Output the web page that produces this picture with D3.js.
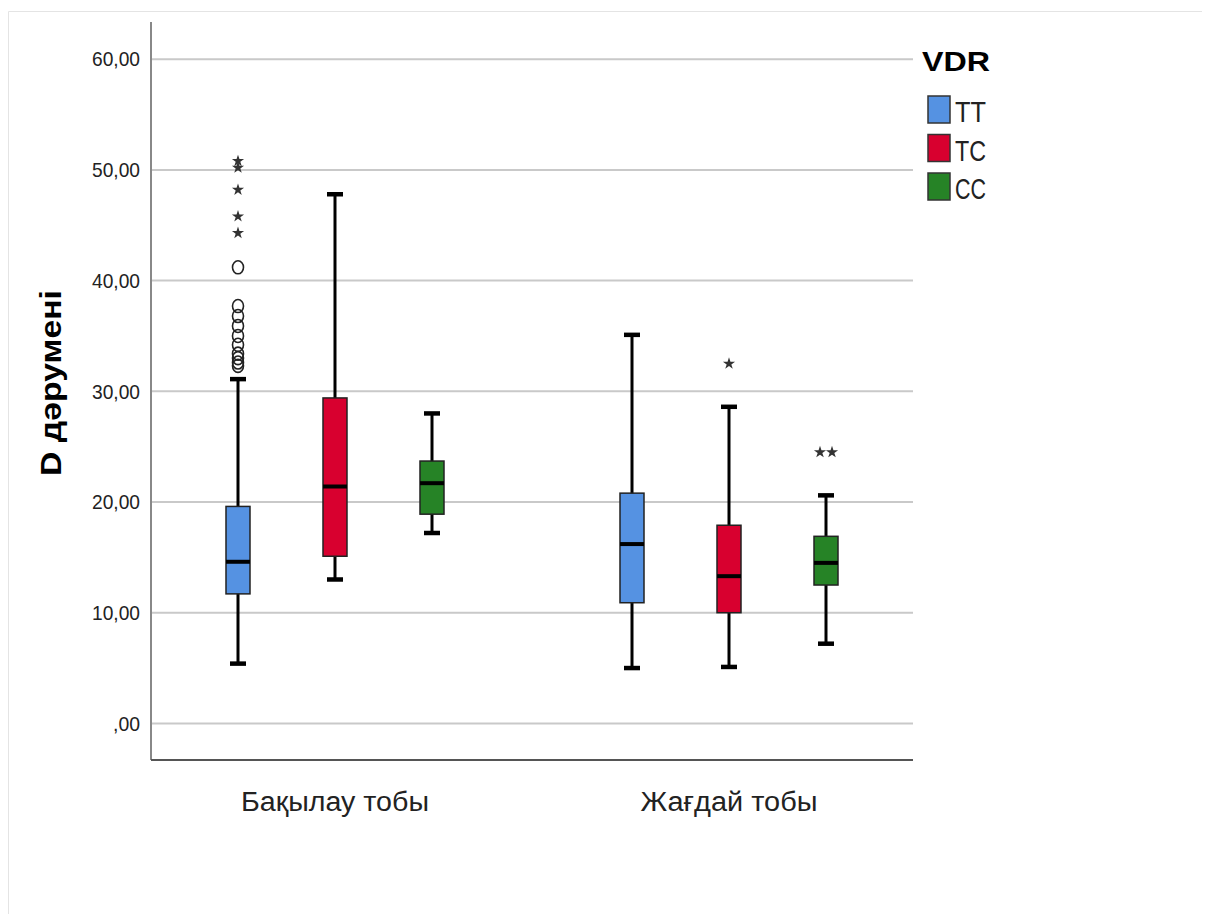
<!DOCTYPE html>
<html>
<meta charset="utf-8">
<style>
  body { margin: 0; background: #fff; }
  svg { display: block; }
  text { font-family: 'Liberation Sans', Arial, sans-serif; fill: #222; }
</style>
<body>
<svg width="1208" height="914"></svg>
<script src="https://d3js.org/d3.v7.min.js"></script>
<script>
  // groups on the x axis and the genotypes inside each group
  let groups = ["Бақылау тобы", "Жағдай тобы"];
  let genotypes = ["TT", "TC", "CC"];
  let colors = ["#5592e2", "#d8002f", "#268326"];

  // box stats, order: [Бақылау TT, TC, CC, Жағдай TT, TC, CC]
  let whiskerLow = [5.4, 13.0, 17.2, 5.0, 5.1, 7.2];
  let q1        = [11.7, 15.1, 18.9, 10.9, 10.0, 12.5];
  let medians   = [14.6, 21.4, 21.7, 16.2, 13.3, 14.5];
  let q3        = [19.6, 29.4, 23.7, 20.8, 17.9, 16.9];
  let whiskerHigh = [31.1, 47.8, 28.0, 35.1, 28.6, 20.6];

  // outliers (circles) and extremes (stars): [box index, value]
  let circleOutliers = [[0, 41.2], [0, 37.7], [0, 36.8], [0, 35.9], [0, 35.0], [0, 34.2], [0, 33.4], [0, 33.0], [0, 32.6], [0, 32.3]];
  let starOutliers = [[0, 50.8], [0, 50.2], [0, 48.2], [0, 45.8], [0, 44.3], [4, 32.5], [5, 24.5], [5, 24.5]];

  let yTicks = [0, 10, 20, 30, 40, 50, 60];

  let svg = d3.select("svg");
  let plotLeft = 151, plotRight = 913, plotTop = 22, plotBottom = 760;

  // faint frame around the output
  svg.append("path")
     .attr("d", "M8.5,914 V11.5 H1202")
     .style("fill", "none").style("stroke", "#e4e4e4");

  let yScale = d3.scaleLinear().domain([0, 60]).range([723.4, 59.2]);
  let xGroup = d3.scalePoint().domain(groups).range([plotLeft, plotRight]).padding(0.467);
  let xSub = d3.scalePoint().domain(genotypes).range([-97, 97]);
  let bw = 24;

  function boxCx(i) {
    return xGroup(groups[Math.floor(i / 3)]) + xSub(genotypes[i % 3]);
  }

  // gridlines
  svg.append("g").selectAll("line").data(yTicks).join("line")
     .attr("x1", plotLeft).attr("x2", plotRight)
     .attr("y1", d => yScale(d)).attr("y2", d => yScale(d))
     .style("stroke", "#c9c9c9").style("stroke-width", 2);

  // axes
  let yAxis = svg.append("g").attr("transform", "translate(" + plotLeft + ",0)")
     .call(d3.axisLeft(yScale).tickValues(yTicks).tickSize(0).tickPadding(11)
       .tickFormat(d => d === 0 ? ",00" : d3.format(".2f")(d).replace(".", ",")));
  yAxis.select(".domain").remove();
  yAxis.selectAll("text").style("font-size", "21px").style("fill", "#222")
       .style("font-family", "'Liberation Sans', Arial, sans-serif")
       .attr("lengthAdjust", "spacingAndGlyphs")
       .attr("textLength", d => d === 0 ? 27 : 48);

  svg.append("line").attr("x1", plotLeft).attr("x2", plotLeft).attr("y1", plotTop).attr("y2", plotBottom)
     .style("stroke", "#888").style("stroke-width", 2);
  svg.append("line").attr("x1", plotLeft).attr("x2", plotRight).attr("y1", plotBottom).attr("y2", plotBottom)
     .style("stroke", "#555").style("stroke-width", 2);

  // category labels
  svg.append("g").selectAll("text").data(groups).join("text")
     .attr("x", d => xGroup(d))
     .attr("y", 811)
     .attr("text-anchor", "middle")
     .style("font-size", "27px")
     .attr("lengthAdjust", "spacingAndGlyphs")
     .attr("textLength", (d, i) => i === 0 ? 188 : 177)
     .text(d => d);

  // y title
  svg.append("text")
     .attr("transform", "translate(61,383) rotate(-90)")
     .attr("text-anchor", "middle")
     .style("font-size", "29px").style("font-weight", "bold").style("fill", "#000")
     .attr("lengthAdjust", "spacingAndGlyphs")
     .attr("textLength", 186)
     .text("D дәрумені");

  // whiskers
  let idx = d3.range(6);
  let boxes = svg.append("g");
  boxes.selectAll(".whisker").data(idx).join("line")
     .attr("x1", i => boxCx(i)).attr("x2", i => boxCx(i))
     .attr("y1", i => yScale(whiskerLow[i])).attr("y2", i => yScale(whiskerHigh[i]))
     .style("stroke", "#000").style("stroke-width", 3);
  boxes.selectAll(".capLow").data(idx).join("line")
     .attr("x1", i => boxCx(i) - 8).attr("x2", i => boxCx(i) + 8)
     .attr("y1", i => yScale(whiskerLow[i])).attr("y2", i => yScale(whiskerLow[i]))
     .style("stroke", "#000").style("stroke-width", 4.5);
  boxes.selectAll(".capHigh").data(idx).join("line")
     .attr("x1", i => boxCx(i) - 8).attr("x2", i => boxCx(i) + 8)
     .attr("y1", i => yScale(whiskerHigh[i])).attr("y2", i => yScale(whiskerHigh[i]))
     .style("stroke", "#000").style("stroke-width", 4.5);

  boxes.selectAll("rect").data(idx).join("rect")
     .attr("x", i => boxCx(i) - bw / 2).attr("width", bw)
     .attr("y", i => yScale(q3[i])).attr("height", i => yScale(q1[i]) - yScale(q3[i]))
     .style("fill", i => colors[i % 3]).style("stroke", "#222").style("stroke-width", 1.5);
  boxes.selectAll(".median").data(idx).join("line")
     .attr("x1", i => boxCx(i) - bw / 2).attr("x2", i => boxCx(i) + bw / 2)
     .attr("y1", i => yScale(medians[i])).attr("y2", i => yScale(medians[i]))
     .style("stroke", "#000").style("stroke-width", 4);

  // outliers
  svg.append("g").selectAll("ellipse").data(circleOutliers).join("ellipse")
     .attr("cx", d => boxCx(d[0])).attr("cy", d => yScale(d[1]))
     .attr("rx", 5.5).attr("ry", 6.5)
     .style("fill", "none").style("stroke", "#222").style("stroke-width", 1.6);

  let starSym = d3.symbol().type(d3.symbolStar).size(46);
  svg.append("g").selectAll("path").data(starOutliers).join("path")
     .attr("transform", (d, i) => {
       let off = 0;
       if (d[0] === 5) off = (i === starOutliers.length - 1) ? 6 : -6;
       return "translate(" + (boxCx(d[0]) + off) + "," + yScale(d[1]) + ")";
     })
     .attr("d", starSym)
     .style("fill", "#333");

  // legend
  let legend = svg.append("g");
  legend.append("text").attr("x", 922).attr("y", 71)
     .style("font-size", "28px").style("font-weight", "bold").style("fill", "#000")
     .attr("lengthAdjust", "spacingAndGlyphs").attr("textLength", 68)
     .text("VDR");
  let items = legend.selectAll(".item").data(genotypes).join("g")
     .attr("transform", (d, i) => "translate(928," + (96 + i * 38.5) + ")");
  items.append("rect").attr("width", 22).attr("height", 27)
     .style("fill", (d, i) => colors[i]).style("stroke", "#333").style("stroke-width", 1.5);
  items.append("text").attr("x", 27).attr("y", 26)
     .style("font-size", "29px")
     .attr("lengthAdjust", "spacingAndGlyphs")
     .attr("textLength", 31)
     .text(d => d);
</script>
</body>
</html>
